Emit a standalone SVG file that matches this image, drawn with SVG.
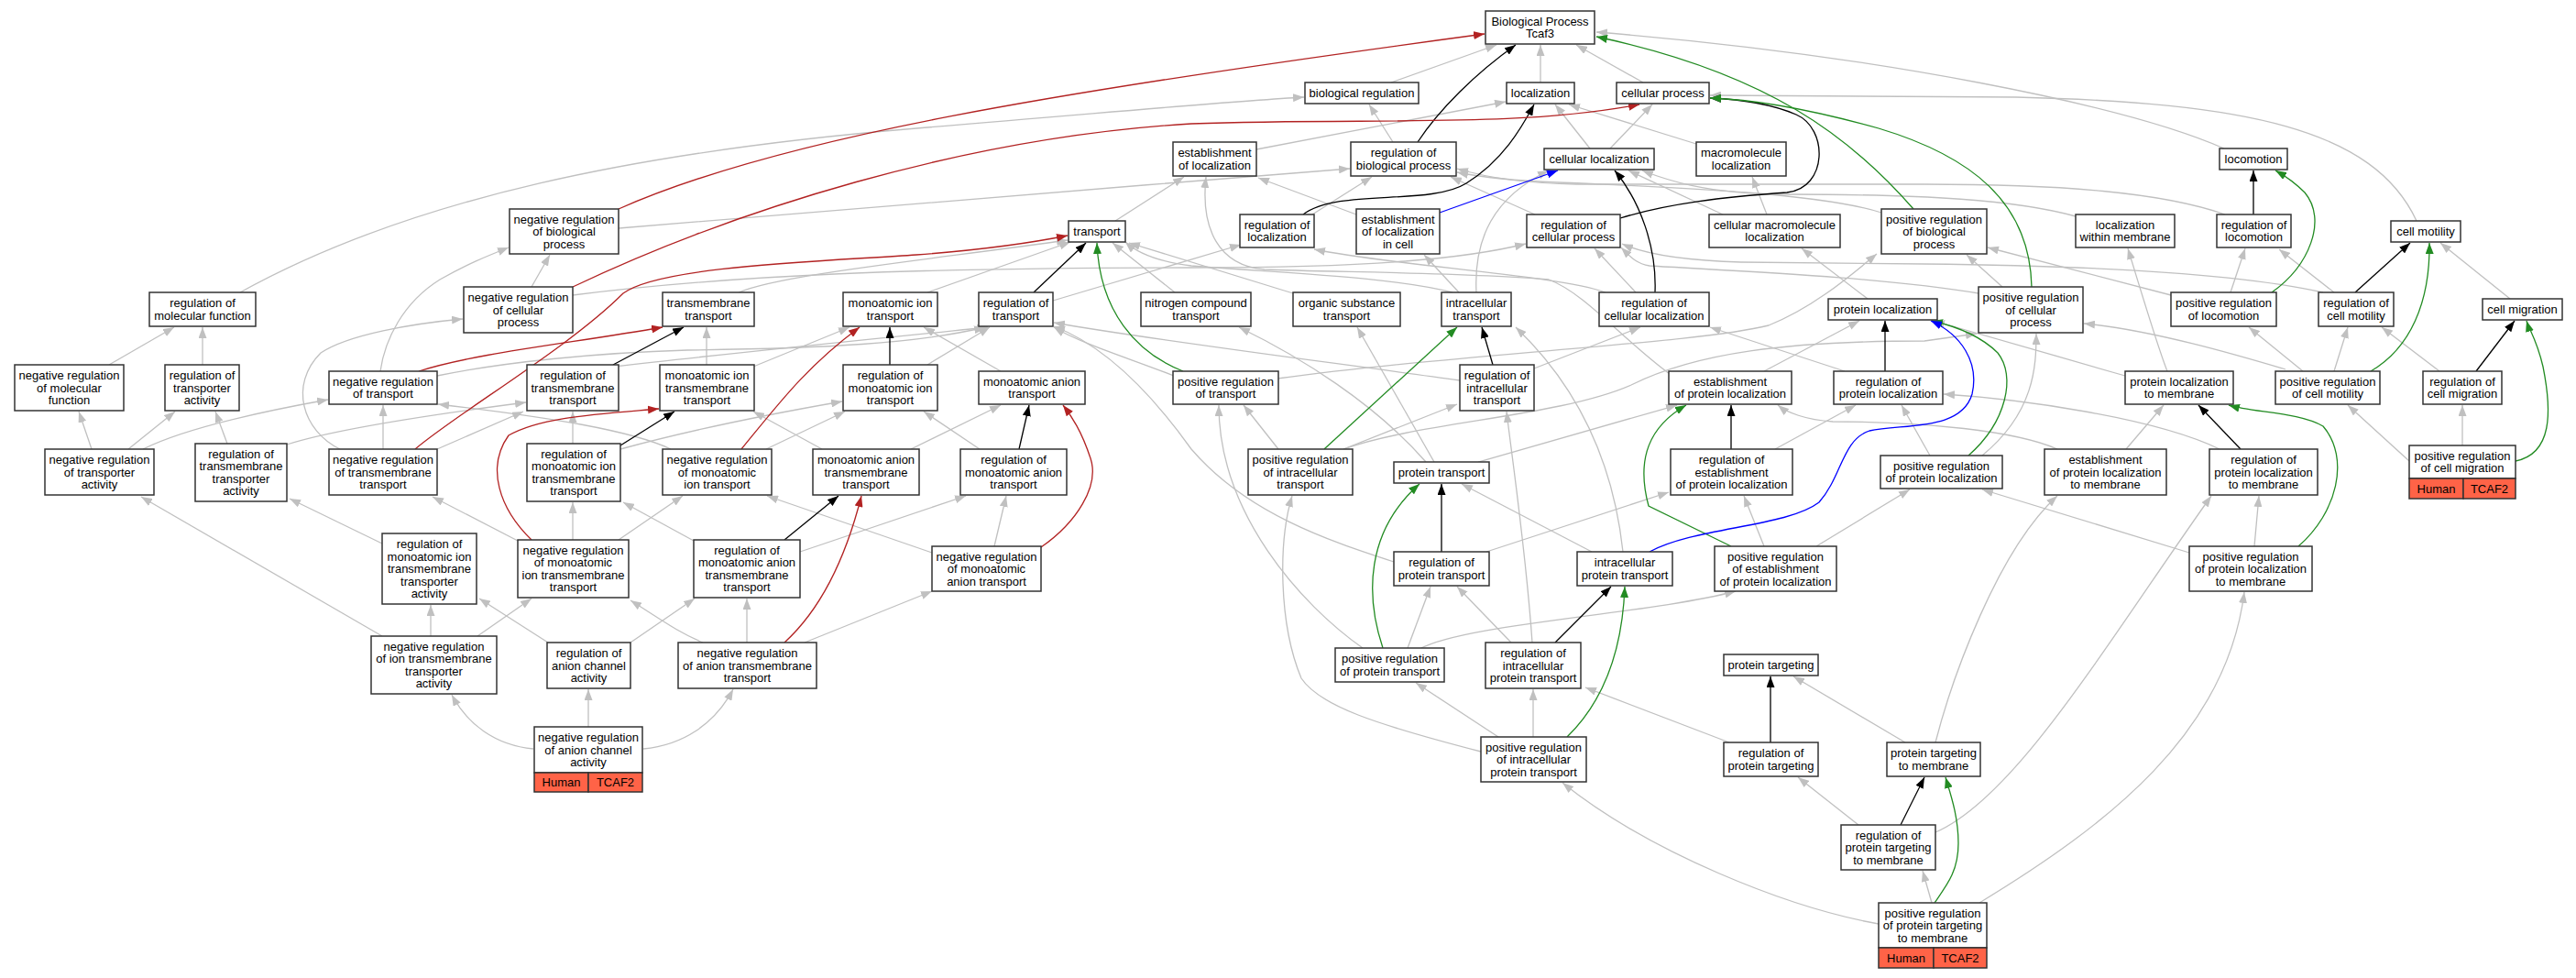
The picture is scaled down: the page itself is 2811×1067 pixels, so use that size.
<svg xmlns="http://www.w3.org/2000/svg" width="2811" height="1067" viewBox="0 0 2811 1067">
<defs>
<marker id="ag" viewBox="0 0 12 9" refX="12" refY="4.5" markerWidth="12" markerHeight="9" markerUnits="userSpaceOnUse" orient="auto"><path d="M0,0L12,4.5L0,9z" fill="#c0c0c0"/></marker>
<marker id="ak" viewBox="0 0 12 9" refX="12" refY="4.5" markerWidth="12" markerHeight="9" markerUnits="userSpaceOnUse" orient="auto"><path d="M0,0L12,4.5L0,9z" fill="#000"/></marker>
<marker id="ar" viewBox="0 0 12 9" refX="12" refY="4.5" markerWidth="12" markerHeight="9" markerUnits="userSpaceOnUse" orient="auto"><path d="M0,0L12,4.5L0,9z" fill="#b22222"/></marker>
<marker id="agr" viewBox="0 0 12 9" refX="12" refY="4.5" markerWidth="12" markerHeight="9" markerUnits="userSpaceOnUse" orient="auto"><path d="M0,0L12,4.5L0,9z" fill="#228b22"/></marker>
<marker id="ab" viewBox="0 0 12 9" refX="12" refY="4.5" markerWidth="12" markerHeight="9" markerUnits="userSpaceOnUse" orient="auto"><path d="M0,0L12,4.5L0,9z" fill="#0000ff"/></marker>
</defs>
<style>
text{font-family:"Liberation Sans",Arial,sans-serif;font-size:13px;text-anchor:middle;fill:#000}
.n rect{fill:#fff;stroke:#333;stroke-width:1.5}
.n rect.h{fill:#ff6347}
#edges path{fill:none;stroke-width:1.3}
.g{stroke:#c0c0c0;marker-end:url(#ag)}
.k{stroke:#000;marker-end:url(#ak)}
.r{stroke:#b22222;marker-end:url(#ar)}
.gr{stroke:#228b22;marker-end:url(#agr)}
.b{stroke:#0000ff;marker-end:url(#ab)}
</style>
<rect width="2811" height="1067" fill="#fff"/>
<g id="edges">
<path class="g" d="M1518,90 L1633,49"/>
<path class="g" d="M1681,90 L1681,49"/>
<path class="g" d="M1793,90 L1720,49"/>
<path class="g" d="M2427,162 C2320,115 2050,60 1742,35"/>
<path class="g" d="M262,319 C450,215 700,165 1000,140 S1350,110 1423,106"/>
<path class="g" d="M1371,163 L1643,111"/>
<path class="g" d="M1757,162 L1803,114"/>
<path class="g" d="M1735,162 L1697,114"/>
<path class="g" d="M1851,157 L1712,114"/>
<path class="g" d="M2637,241 C2590,140 2450,112 2200,106 L1866,104"/>
<path class="g" d="M1520,155 L1494,114"/>
<path class="g" d="M1432,234 L1497,193"/>
<path class="g" d="M1675,234 L1583,193"/>
<path class="g" d="M2053,232 C1990,212 1850,205 1700,199 C1650,197 1610,192 1590,188"/>
<path class="g" d="M2428,234 C2360,210 2250,201 2100,201 L1720,201 C1650,200 1610,190 1590,184"/>
<path class="g" d="M2265,236 C2200,218 2100,212 1950,212 C1860,212 1815,195 1792,186"/>
<path class="g" d="M1880,234 L1777,186"/>
<path class="g" d="M1611,319 C1608,260 1630,215 1690,186"/>
<path class="g" d="M1928,234 L1912,193"/>
<path class="g" d="M1217,241 L1292,193"/>
<path class="g" d="M1480,234 L1373,194"/>
<path class="g" d="M1822,408 C1770,370 1730,320 1690,305 C1600,297 1450,297 1380,294 C1330,290 1310,250 1316,193"/>
<path class="g" d="M1149,328 L1354,267"/>
<path class="g" d="M1752,319 C1700,300 1520,290 1434,272"/>
<path class="g" d="M2013,405 L1866,357"/>
<path class="g" d="M1674,402 L1790,357"/>
<path class="g" d="M1593,415 C1450,395 1250,370 1150,352"/>
<path class="g" d="M675,249 C900,232 1200,205 1473,184"/>
<path class="g" d="M580,313 L600,278"/>
<path class="g" d="M625,322 C800,300 1000,292 1300,292 C1500,292 1600,282 1665,266"/>
<path class="g" d="M415,405 C420,370 440,330 480,305 C510,288 530,280 555,270"/>
<path class="g" d="M371,490 C330,470 315,420 350,385 C380,365 450,353 505,348"/>
<path class="g" d="M156,490 C200,468 280,450 358,436"/>
<path class="g" d="M806,319 C850,300 1000,285 1165,262"/>
<path class="g" d="M1012,319 L1168,264"/>
<path class="g" d="M1282,319 L1214,265"/>
<path class="g" d="M1411,320 L1232,265"/>
<path class="g" d="M1585,319 C1520,302 1400,298 1300,290 C1260,285 1240,275 1228,264"/>
<path class="g" d="M477,410 C550,395 650,385 750,382 C900,380 1000,375 1075,357"/>
<path class="g" d="M670,400 C800,385 950,370 1078,357"/>
<path class="g" d="M771,398 L771,357"/>
<path class="g" d="M822,400 L927,357"/>
<path class="g" d="M1012,398 L1080,357"/>
<path class="g" d="M1092,405 L1008,357"/>
<path class="g" d="M1281,410 C1230,390 1180,375 1150,357"/>
<path class="g" d="M1394,413 C1600,385 1850,375 1930,355 C1980,335 2020,300 2048,277"/>
<path class="g" d="M1466,490 C1550,460 1700,455 1780,420 C1850,385 1950,372 2100,372 L2157,364"/>
<path class="g" d="M1613,504 L1830,442"/>
<path class="g" d="M1565,504 L1481,357"/>
<path class="g" d="M1556,504 C1500,440 1420,390 1352,357"/>
<path class="g" d="M1925,405 L2029,350"/>
<path class="g" d="M2365,405 C2355,380 2340,330 2322,271"/>
<path class="g" d="M2319,410 C2250,390 2160,365 2110,350"/>
<path class="g" d="M2185,313 L2146,278"/>
<path class="g" d="M2159,320 C2050,302 1900,296 1800,290 C1785,288 1777,278 1769,270"/>
<path class="g" d="M2535,319 C2450,300 2300,290 2100,288 L1900,286 C1830,284 1790,275 1770,266"/>
<path class="g" d="M2434,319 L2450,271"/>
<path class="g" d="M2369,322 L2169,270"/>
<path class="g" d="M2547,319 L2487,272"/>
<path class="g" d="M2739,326 L2663,265"/>
<path class="g" d="M119,398 L190,357"/>
<path class="g" d="M221,398 L221,357"/>
<path class="g" d="M100,490 L86,449"/>
<path class="g" d="M140,490 L191,449"/>
<path class="g" d="M248,484 L235,449"/>
<path class="g" d="M313,485 C360,470 450,455 574,439"/>
<path class="g" d="M418,490 L418,442"/>
<path class="g" d="M477,490 L571,449"/>
<path class="g" d="M625,484 L625,449"/>
<path class="g" d="M677,490 C750,470 850,450 919,438"/>
<path class="g" d="M625,589 L625,548"/>
<path class="g" d="M565,590 L472,542"/>
<path class="g" d="M675,589 L745,541"/>
<path class="g" d="M836,490 L922,449"/>
<path class="g" d="M732,490 C690,470 600,455 478,441"/>
<path class="g" d="M897,490 L822,449"/>
<path class="g" d="M994,490 L1092,442"/>
<path class="g" d="M1069,490 L1008,449"/>
<path class="g" d="M873,602 L1054,541"/>
<path class="g" d="M757,590 L680,548"/>
<path class="g" d="M1085,596 L1098,541"/>
<path class="g" d="M1017,603 L837,541"/>
<path class="g" d="M417,593 L316,544"/>
<path class="g" d="M417,694 L154,542"/>
<path class="g" d="M470,694 L470,660"/>
<path class="g" d="M521,694 L580,653"/>
<path class="g" d="M598,701 L523,653"/>
<path class="g" d="M688,701 L758,653"/>
<path class="g" d="M815,701 L815,653"/>
<path class="g" d="M878,701 L1017,645"/>
<path class="g" d="M767,701 C740,690 720,675 688,655"/>
<path class="g" d="M582,817 C540,813 510,790 493,758"/>
<path class="g" d="M642,793 L642,752"/>
<path class="g" d="M702,817 C745,813 780,790 800,752"/>
<path class="g" d="M1466,490 L1590,441"/>
<path class="g" d="M1395,490 L1357,442"/>
<path class="g" d="M1521,613 C1450,590 1360,560 1300,490 C1250,420 1200,375 1150,356"/>
<path class="g" d="M1622,602 L1821,537"/>
<path class="g" d="M1536,707 L1561,640"/>
<path class="g" d="M1487,707 C1420,660 1330,560 1330,442"/>
<path class="g" d="M1549,708 C1600,680 1800,670 1894,645"/>
<path class="g" d="M1649,701 L1590,640"/>
<path class="g" d="M1672,701 C1665,600 1650,500 1644,449"/>
<path class="g" d="M1737,602 L1595,528"/>
<path class="g" d="M1771,602 C1760,500 1720,420 1654,357"/>
<path class="g" d="M1673,804 L1673,752"/>
<path class="g" d="M1635,804 L1545,745"/>
<path class="g" d="M1616,820 C1500,790 1440,770 1420,740 C1395,680 1395,590 1410,541"/>
<path class="g" d="M1887,810 L1730,750"/>
<path class="g" d="M2079,810 L1957,738"/>
<path class="g" d="M2112,810 C2130,740 2180,600 2245,541"/>
<path class="g" d="M2028,900 L1962,848"/>
<path class="g" d="M2112,908 C2200,870 2300,700 2413,541"/>
<path class="g" d="M2108,985 L2098,950"/>
<path class="g" d="M2050,1008 C1950,990 1800,930 1705,854"/>
<path class="g" d="M2160,985 C2300,900 2430,800 2449,646"/>
<path class="g" d="M1937,490 L2025,442"/>
<path class="g" d="M1925,596 L1903,541"/>
<path class="g" d="M1982,596 L2084,534"/>
<path class="g" d="M2106,497 L2075,442"/>
<path class="g" d="M2163,497 C2220,450 2222,400 2222,364"/>
<path class="g" d="M2320,490 L2361,442"/>
<path class="g" d="M2245,490 C2200,470 2100,460 2000,460 C1970,458 1950,450 1940,442"/>
<path class="g" d="M2422,490 C2350,455 2200,435 2121,430"/>
<path class="g" d="M2460,596 L2465,541"/>
<path class="g" d="M2389,603 L2163,534"/>
<path class="g" d="M2547,405 L2562,357"/>
<path class="g" d="M2513,405 L2454,357"/>
<path class="g" d="M2494,403 C2450,390 2350,360 2274,353"/>
<path class="g" d="M2662,405 L2599,357"/>
<path class="g" d="M2687,486 L2687,442"/>
<path class="g" d="M2629,503 L2562,442"/>
<path class="g" d="M2038,326 L1966,271"/>
<path class="g" d="M1785,319 L1740,271"/>
<path class="g" d="M1592,319 L1554,278"/>
<path class="k" d="M1547,155 C1570,120 1610,80 1654,49"/>
<path class="k" d="M1422,234 C1460,205 1560,225 1600,200 C1640,175 1660,140 1674,114"/>
<path class="k" d="M1768,238 C1820,222 1880,215 1950,210 C1995,205 1995,140 1960,125 C1930,112 1890,108 1866,107"/>
<path class="k" d="M1806,319 C1808,270 1790,220 1762,186"/>
<path class="k" d="M1128,319 L1185,265"/>
<path class="k" d="M669,398 L746,357"/>
<path class="k" d="M971,398 L971,357"/>
<path class="k" d="M2459,234 L2459,186"/>
<path class="k" d="M2570,319 L2630,265"/>
<path class="k" d="M2702,405 L2744,350"/>
<path class="k" d="M677,486 L736,449"/>
<path class="k" d="M1112,490 L1123,442"/>
<path class="k" d="M856,589 L915,541"/>
<path class="k" d="M1629,398 L1617,357"/>
<path class="k" d="M2057,405 L2057,350"/>
<path class="k" d="M1889,490 L1889,442"/>
<path class="k" d="M1573,602 L1573,528"/>
<path class="k" d="M1697,701 L1758,640"/>
<path class="k" d="M1932,810 L1932,738"/>
<path class="k" d="M2074,900 L2100,848"/>
<path class="k" d="M2445,490 L2399,442"/>
<path class="r" d="M675,228 C850,150 1150,100 1620,37"/>
<path class="r" d="M625,313 C800,230 1050,150 1300,135 C1500,128 1650,140 1789,114"/>
<path class="r" d="M457,405 C520,385 620,375 723,357"/>
<path class="r" d="M453,490 C500,450 620,380 680,320 C720,290 900,285 1000,278 C1080,272 1130,264 1165,257"/>
<path class="r" d="M580,589 C545,555 530,510 555,475 C590,455 650,452 719,446"/>
<path class="r" d="M809,490 C850,440 880,400 938,357"/>
<path class="r" d="M1136,597 C1175,570 1200,530 1190,500 C1180,470 1170,455 1160,442"/>
<path class="r" d="M856,701 C890,670 920,620 940,541"/>
<path class="gr" d="M2088,228 C2020,150 1930,80 1742,40"/>
<path class="gr" d="M2217,313 C2215,220 2150,170 2050,140 C1960,115 1900,108 1866,107"/>
<path class="gr" d="M2479,319 C2520,290 2540,240 2515,210 C2500,195 2490,190 2483,186"/>
<path class="gr" d="M1291,405 C1240,385 1200,340 1197,265"/>
<path class="gr" d="M2587,405 C2630,380 2652,330 2651,265"/>
<path class="gr" d="M2745,503 C2785,495 2785,450 2775,400 C2768,370 2760,360 2757,350"/>
<path class="gr" d="M1445,490 L1590,357"/>
<path class="gr" d="M1509,707 C1490,650 1490,580 1549,528"/>
<path class="gr" d="M1889,596 L1799,552 C1785,500 1800,465 1840,442"/>
<path class="gr" d="M2508,596 C2550,560 2565,500 2535,465 C2510,450 2460,450 2432,442"/>
<path class="gr" d="M2148,497 C2190,460 2200,410 2180,385 C2160,365 2130,355 2108,350"/>
<path class="gr" d="M1710,804 C1745,770 1770,720 1773,640"/>
<path class="gr" d="M2111,985 C2125,965 2137,950 2137,920 C2137,890 2128,865 2123,848"/>
<path class="b" d="M1571,232 L1700,186"/>
<path class="b" d="M1800,602 C1850,575 1950,575 1985,548 C2010,520 2010,480 2040,470 C2080,462 2140,470 2152,430 C2160,395 2140,365 2107,350"/>
</g>
<g id="BP" class="n"><rect x="1621" y="12" width="119" height="36"/><text x="1680.5" y="27.75">Biological Process</text><text x="1680.5" y="41.25">Tcaf3</text></g>
<g id="BR" class="n"><rect x="1424" y="90" width="124" height="23"/><text x="1486" y="106">biological regulation</text></g>
<g id="LOC" class="n"><rect x="1644" y="90" width="74" height="23"/><text x="1681" y="106">localization</text></g>
<g id="CP" class="n"><rect x="1764" y="90" width="101" height="23"/><text x="1814.5" y="106">cellular process</text></g>
<g id="EL" class="n"><rect x="1280" y="155" width="91" height="37"/><text x="1325.5" y="171.25">establishment</text><text x="1325.5" y="184.75">of localization</text></g>
<g id="RBP" class="n"><rect x="1474" y="155" width="115" height="37"/><text x="1531.5" y="171.25">regulation of</text><text x="1531.5" y="184.75">biological process</text></g>
<g id="CL" class="n"><rect x="1685" y="162" width="120" height="23"/><text x="1745" y="178">cellular localization</text></g>
<g id="ML" class="n"><rect x="1851" y="155" width="98" height="37"/><text x="1900" y="171.25">macromolecule</text><text x="1900" y="184.75">localization</text></g>
<g id="LOCM" class="n"><rect x="2422" y="162" width="74" height="23"/><text x="2459" y="178">locomotion</text></g>
<g id="NRBP" class="n"><rect x="556" y="228" width="119" height="49"/><text x="615.5" y="243.5">negative regulation</text><text x="615.5" y="257">of biological</text><text x="615.5" y="270.5">process</text></g>
<g id="TR" class="n"><rect x="1166" y="241" width="62" height="23"/><text x="1197" y="257">transport</text></g>
<g id="RL" class="n"><rect x="1353" y="234" width="81" height="36"/><text x="1393.5" y="249.75">regulation of</text><text x="1393.5" y="263.25">localization</text></g>
<g id="ELC" class="n"><rect x="1480" y="228" width="91" height="49"/><text x="1525.5" y="243.5">establishment</text><text x="1525.5" y="257">of localization</text><text x="1525.5" y="270.5">in cell</text></g>
<g id="RCP" class="n"><rect x="1666" y="234" width="102" height="36"/><text x="1717" y="249.75">regulation of</text><text x="1717" y="263.25">cellular process</text></g>
<g id="CML" class="n"><rect x="1865" y="234" width="143" height="36"/><text x="1936.5" y="249.75">cellular macromolecule</text><text x="1936.5" y="263.25">localization</text></g>
<g id="PRBP" class="n"><rect x="2053" y="228" width="115" height="49"/><text x="2110.5" y="243.5">positive regulation</text><text x="2110.5" y="257">of biological</text><text x="2110.5" y="270.5">process</text></g>
<g id="LWM" class="n"><rect x="2265" y="234" width="108" height="36"/><text x="2319" y="249.75">localization</text><text x="2319" y="263.25">within membrane</text></g>
<g id="RLOC" class="n"><rect x="2419" y="234" width="81" height="36"/><text x="2459.5" y="249.75">regulation of</text><text x="2459.5" y="263.25">locomotion</text></g>
<g id="CM" class="n"><rect x="2609" y="241" width="76" height="23"/><text x="2647" y="257">cell motility</text></g>
<g id="RMF" class="n"><rect x="163" y="319" width="116" height="37"/><text x="221" y="335.25">regulation of</text><text x="221" y="348.75">molecular function</text></g>
<g id="NRCP" class="n"><rect x="506" y="313" width="119" height="50"/><text x="565.5" y="329">negative regulation</text><text x="565.5" y="342.5">of cellular</text><text x="565.5" y="356">process</text></g>
<g id="TMT" class="n"><rect x="723" y="319" width="100" height="37"/><text x="773" y="335.25">transmembrane</text><text x="773" y="348.75">transport</text></g>
<g id="MIT" class="n"><rect x="920" y="319" width="103" height="37"/><text x="971.5" y="335.25">monoatomic ion</text><text x="971.5" y="348.75">transport</text></g>
<g id="RT" class="n"><rect x="1068" y="319" width="81" height="37"/><text x="1108.5" y="335.25">regulation of</text><text x="1108.5" y="348.75">transport</text></g>
<g id="NCT" class="n"><rect x="1245" y="319" width="120" height="37"/><text x="1305" y="335.25">nitrogen compound</text><text x="1305" y="348.75">transport</text></g>
<g id="OST" class="n"><rect x="1411" y="319" width="117" height="37"/><text x="1469.5" y="335.25">organic substance</text><text x="1469.5" y="348.75">transport</text></g>
<g id="IT" class="n"><rect x="1573" y="319" width="76" height="37"/><text x="1611" y="335.25">intracellular</text><text x="1611" y="348.75">transport</text></g>
<g id="RCL" class="n"><rect x="1745" y="319" width="120" height="37"/><text x="1805" y="335.25">regulation of</text><text x="1805" y="348.75">cellular localization</text></g>
<g id="PL" class="n"><rect x="1995" y="326" width="119" height="23"/><text x="2054.5" y="342">protein localization</text></g>
<g id="PRCP" class="n"><rect x="2159" y="313" width="114" height="50"/><text x="2216" y="329">positive regulation</text><text x="2216" y="342.5">of cellular</text><text x="2216" y="356">process</text></g>
<g id="PRLOC" class="n"><rect x="2369" y="319" width="115" height="37"/><text x="2426.5" y="335.25">positive regulation</text><text x="2426.5" y="348.75">of locomotion</text></g>
<g id="RCM" class="n"><rect x="2530" y="319" width="82" height="37"/><text x="2571" y="335.25">regulation of</text><text x="2571" y="348.75">cell motility</text></g>
<g id="CMIG" class="n"><rect x="2709" y="326" width="87" height="23"/><text x="2752.5" y="342">cell migration</text></g>
<g id="NRMF" class="n"><rect x="16" y="398" width="119" height="50"/><text x="75.5" y="414">negative regulation</text><text x="75.5" y="427.5">of molecular</text><text x="75.5" y="441">function</text></g>
<g id="RTA" class="n"><rect x="180" y="398" width="81" height="50"/><text x="220.5" y="414">regulation of</text><text x="220.5" y="427.5">transporter</text><text x="220.5" y="441">activity</text></g>
<g id="NRT" class="n"><rect x="359" y="405" width="118" height="36"/><text x="418" y="420.75">negative regulation</text><text x="418" y="434.25">of transport</text></g>
<g id="RTMT" class="n"><rect x="575" y="398" width="100" height="50"/><text x="625" y="414">regulation of</text><text x="625" y="427.5">transmembrane</text><text x="625" y="441">transport</text></g>
<g id="MITMT" class="n"><rect x="720" y="398" width="103" height="50"/><text x="771.5" y="414">monoatomic ion</text><text x="771.5" y="427.5">transmembrane</text><text x="771.5" y="441">transport</text></g>
<g id="RMIT" class="n"><rect x="920" y="398" width="103" height="50"/><text x="971.5" y="414">regulation of</text><text x="971.5" y="427.5">monoatomic ion</text><text x="971.5" y="441">transport</text></g>
<g id="MAT" class="n"><rect x="1068" y="405" width="116" height="36"/><text x="1126" y="420.75">monoatomic anion</text><text x="1126" y="434.25">transport</text></g>
<g id="PRT" class="n"><rect x="1280" y="405" width="115" height="36"/><text x="1337.5" y="420.75">positive regulation</text><text x="1337.5" y="434.25">of transport</text></g>
<g id="RIT" class="n"><rect x="1593" y="398" width="81" height="50"/><text x="1633.5" y="414">regulation of</text><text x="1633.5" y="427.5">intracellular</text><text x="1633.5" y="441">transport</text></g>
<g id="EPL" class="n"><rect x="1821" y="405" width="134" height="36"/><text x="1888" y="420.75">establishment</text><text x="1888" y="434.25">of protein localization</text></g>
<g id="RPL" class="n"><rect x="2001" y="405" width="119" height="36"/><text x="2060.5" y="420.75">regulation of</text><text x="2060.5" y="434.25">protein localization</text></g>
<g id="PLM" class="n"><rect x="2319" y="405" width="118" height="36"/><text x="2378" y="420.75">protein localization</text><text x="2378" y="434.25">to membrane</text></g>
<g id="PRCMOT" class="n"><rect x="2483" y="405" width="114" height="36"/><text x="2540" y="420.75">positive regulation</text><text x="2540" y="434.25">of cell motility</text></g>
<g id="RCMIG" class="n"><rect x="2644" y="405" width="86" height="36"/><text x="2687" y="420.75">regulation of</text><text x="2687" y="434.25">cell migration</text></g>
<g id="NRTA" class="n"><rect x="49" y="490" width="119" height="50"/><text x="108.5" y="506">negative regulation</text><text x="108.5" y="519.5">of transporter</text><text x="108.5" y="533">activity</text></g>
<g id="RTMTA" class="n"><rect x="213" y="484" width="100" height="63"/><text x="263" y="499.75">regulation of</text><text x="263" y="513.25">transmembrane</text><text x="263" y="526.75">transporter</text><text x="263" y="540.25">activity</text></g>
<g id="NRTMT" class="n"><rect x="359" y="490" width="118" height="50"/><text x="418" y="506">negative regulation</text><text x="418" y="519.5">of transmembrane</text><text x="418" y="533">transport</text></g>
<g id="RMITMT" class="n"><rect x="575" y="484" width="102" height="63"/><text x="626" y="499.75">regulation of</text><text x="626" y="513.25">monoatomic ion</text><text x="626" y="526.75">transmembrane</text><text x="626" y="540.25">transport</text></g>
<g id="NRMIT" class="n"><rect x="723" y="490" width="119" height="50"/><text x="782.5" y="506">negative regulation</text><text x="782.5" y="519.5">of monoatomic</text><text x="782.5" y="533">ion transport</text></g>
<g id="MATMT" class="n"><rect x="887" y="490" width="116" height="50"/><text x="945" y="506">monoatomic anion</text><text x="945" y="519.5">transmembrane</text><text x="945" y="533">transport</text></g>
<g id="RMAT" class="n"><rect x="1048" y="490" width="116" height="50"/><text x="1106" y="506">regulation of</text><text x="1106" y="519.5">monoatomic anion</text><text x="1106" y="533">transport</text></g>
<g id="PRIT" class="n"><rect x="1362" y="490" width="114" height="50"/><text x="1419" y="506">positive regulation</text><text x="1419" y="519.5">of intracellular</text><text x="1419" y="533">transport</text></g>
<g id="PT" class="n"><rect x="1521" y="504" width="104" height="23"/><text x="1573" y="520">protein transport</text></g>
<g id="REPL" class="n"><rect x="1823" y="490" width="133" height="50"/><text x="1889.5" y="506">regulation of</text><text x="1889.5" y="519.5">establishment</text><text x="1889.5" y="533">of protein localization</text></g>
<g id="PRPL" class="n"><rect x="2052" y="497" width="133" height="36"/><text x="2118.5" y="512.75">positive regulation</text><text x="2118.5" y="526.25">of protein localization</text></g>
<g id="EPLM" class="n"><rect x="2231" y="490" width="133" height="50"/><text x="2297.5" y="506">establishment</text><text x="2297.5" y="519.5">of protein localization</text><text x="2297.5" y="533">to membrane</text></g>
<g id="RPLM" class="n"><rect x="2411" y="490" width="118" height="50"/><text x="2470" y="506">regulation of</text><text x="2470" y="519.5">protein localization</text><text x="2470" y="533">to membrane</text></g>
<g id="PRCMIG" class="n"><rect x="2629" y="486" width="116" height="36"/><text x="2687" y="501.75">positive regulation</text><text x="2687" y="515.25">of cell migration</text><rect class="h" x="2629" y="522" width="59" height="22"/><rect class="h" x="2688" y="522" width="57" height="22"/><text x="2658.5" y="537.5">Human</text><text x="2716.5" y="537.5">TCAF2</text></g>
<g id="RMITMTA" class="n"><rect x="417" y="582" width="103" height="77"/><text x="468.5" y="598">regulation of</text><text x="468.5" y="611.5">monoatomic ion</text><text x="468.5" y="625">transmembrane</text><text x="468.5" y="638.5">transporter</text><text x="468.5" y="652">activity</text></g>
<g id="NRMITMT" class="n"><rect x="565" y="589" width="121" height="63"/><text x="625.5" y="604.75">negative regulation</text><text x="625.5" y="618.25">of monoatomic</text><text x="625.5" y="631.75">ion transmembrane</text><text x="625.5" y="645.25">transport</text></g>
<g id="RMATMT" class="n"><rect x="757" y="589" width="116" height="63"/><text x="815" y="604.75">regulation of</text><text x="815" y="618.25">monoatomic anion</text><text x="815" y="631.75">transmembrane</text><text x="815" y="645.25">transport</text></g>
<g id="NRMAT" class="n"><rect x="1017" y="596" width="119" height="49"/><text x="1076.5" y="611.5">negative regulation</text><text x="1076.5" y="625">of monoatomic</text><text x="1076.5" y="638.5">anion transport</text></g>
<g id="RPT" class="n"><rect x="1521" y="602" width="104" height="37"/><text x="1573" y="618.25">regulation of</text><text x="1573" y="631.75">protein transport</text></g>
<g id="IPT" class="n"><rect x="1721" y="602" width="104" height="37"/><text x="1773" y="618.25">intracellular</text><text x="1773" y="631.75">protein transport</text></g>
<g id="PREPL" class="n"><rect x="1871" y="596" width="133" height="49"/><text x="1937.5" y="611.5">positive regulation</text><text x="1937.5" y="625">of establishment</text><text x="1937.5" y="638.5">of protein localization</text></g>
<g id="PRPLM" class="n"><rect x="2389" y="596" width="134" height="49"/><text x="2456" y="611.5">positive regulation</text><text x="2456" y="625">of protein localization</text><text x="2456" y="638.5">to membrane</text></g>
<g id="NRITMTA" class="n"><rect x="405" y="694" width="137" height="63"/><text x="473.5" y="709.75">negative regulation</text><text x="473.5" y="723.25">of ion transmembrane</text><text x="473.5" y="736.75">transporter</text><text x="473.5" y="750.25">activity</text></g>
<g id="RACA" class="n"><rect x="597" y="701" width="91" height="50"/><text x="642.5" y="717">regulation of</text><text x="642.5" y="730.5">anion channel</text><text x="642.5" y="744">activity</text></g>
<g id="NRATMT" class="n"><rect x="740" y="701" width="151" height="50"/><text x="815.5" y="717">negative regulation</text><text x="815.5" y="730.5">of anion transmembrane</text><text x="815.5" y="744">transport</text></g>
<g id="PRPT" class="n"><rect x="1457" y="707" width="119" height="37"/><text x="1516.5" y="723.25">positive regulation</text><text x="1516.5" y="736.75">of protein transport</text></g>
<g id="RIPT" class="n"><rect x="1621" y="701" width="104" height="50"/><text x="1673" y="717">regulation of</text><text x="1673" y="730.5">intracellular</text><text x="1673" y="744">protein transport</text></g>
<g id="PTG" class="n"><rect x="1881" y="714" width="103" height="23"/><text x="1932.5" y="730">protein targeting</text></g>
<g id="NRACA" class="n"><rect x="583" y="793" width="118" height="50"/><text x="642" y="809">negative regulation</text><text x="642" y="822.5">of anion channel</text><text x="642" y="836">activity</text><rect class="h" x="583" y="843" width="59" height="21"/><rect class="h" x="642" y="843" width="59" height="21"/><text x="612.5" y="858">Human</text><text x="671.5" y="858">TCAF2</text></g>
<g id="PRIPT" class="n"><rect x="1616" y="804" width="115" height="49"/><text x="1673.5" y="819.5">positive regulation</text><text x="1673.5" y="833">of intracellular</text><text x="1673.5" y="846.5">protein transport</text></g>
<g id="RPTG" class="n"><rect x="1881" y="810" width="103" height="37"/><text x="1932.5" y="826.25">regulation of</text><text x="1932.5" y="839.75">protein targeting</text></g>
<g id="PTM" class="n"><rect x="2059" y="810" width="102" height="37"/><text x="2110" y="826.25">protein targeting</text><text x="2110" y="839.75">to membrane</text></g>
<g id="RPTM" class="n"><rect x="2009" y="900" width="103" height="49"/><text x="2060.5" y="915.5">regulation of</text><text x="2060.5" y="929">protein targeting</text><text x="2060.5" y="942.5">to membrane</text></g>
<g id="PRPTM" class="n"><rect x="2050" y="985" width="118" height="49"/><text x="2109" y="1000.5">positive regulation</text><text x="2109" y="1014">of protein targeting</text><text x="2109" y="1027.5">to membrane</text><rect class="h" x="2050" y="1034" width="60" height="22"/><rect class="h" x="2110" y="1034" width="58" height="22"/><text x="2080" y="1049.5">Human</text><text x="2139" y="1049.5">TCAF2</text></g>
</svg>
